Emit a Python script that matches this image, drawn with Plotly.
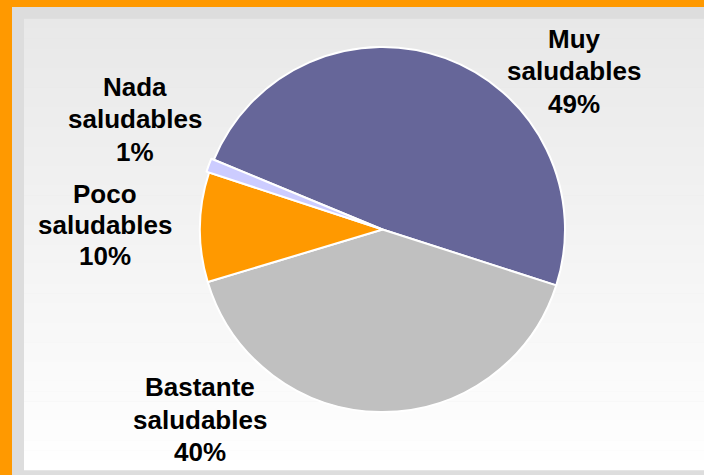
import plotly.graph_objects as go

# ---- data ----
categories = ["Muy saludables", "Bastante saludables", "Poco saludables", "Nada saludables"]
values = [48.7, 40.4, 9.7, 1.2]
colors = ["#666699", "#C0C0C0", "#FF9900", "#CCCCFF"]
pulls = [0, 0, 0, 0.015]

W, H = 704, 475
total = sum(values)
pct_labels = [f"{round(v / total * 100)}%" for v in values]

fig = go.Figure()

# pie geometry (pixels)
cx, cy, r = 382.5, 229.5, 182.5
half = r * (1 + max(pulls))
fig.add_trace(go.Pie(
    labels=categories,
    values=values,
    marker=dict(colors=colors, line=dict(color="white", width=2)),
    pull=pulls,
    sort=False,
    direction="clockwise",
    rotation=-67.5,
    textinfo="none",
    hoverinfo="skip",
    showlegend=False,
    domain=dict(x=[(cx - half) / W, (cx + half) / W],
                y=[(H - cy - half) / H, (H - cy + half) / H]),
))

shapes = []
# grey frame
shapes.append(dict(type="rect", xref="paper", yref="paper", layer="below",
                   x0=12 / W, x1=1.0, y0=0, y1=1 - 7 / H,
                   fillcolor="#DDDDDD", line=dict(width=0)))
# gradient panel
top, bot = 19, 470
nb = 46
for i in range(nb):
    y0 = top + (bot - top) * i / nb
    y1 = top + (bot - top) * (i + 1) / nb
    t = (i + 0.5) / nb
    c = round(232 + (255 - 232) * t)
    shapes.append(dict(type="rect", xref="paper", yref="paper", layer="below",
                       x0=24 / W, x1=1.0, y0=1 - y1 / H - 0.0005, y1=1 - y0 / H + 0.0005,
                       fillcolor=f"rgb({c},{c},{c})", line=dict(width=0)))

# label placement (px): center x, y of each line
label_pos = [
    (574, [39, 71, 104]),
    (200, [387, 420, 452]),
    (105, [194, 225, 256]),
    (135, [87, 119, 152]),
]
annotations = []
for cat, pct, (lx, lys) in zip(categories, pct_labels, label_pos):
    lines = cat.split(" ") + [pct]
    for txt, ly in zip(lines, lys):
        annotations.append(dict(
            text=f"<b>{txt}</b>", x=lx / W, y=1 - ly / H, xref="paper", yref="paper",
            xanchor="center", yanchor="middle", showarrow=False,
            font=dict(family="Liberation Sans, Arial, sans-serif", size=26, color="black"),
        ))

fig.update_layout(
    width=W, height=H,
    margin=dict(l=0, r=0, t=0, b=0),
    paper_bgcolor="#FF9900",
    plot_bgcolor="rgba(0,0,0,0)",
    shapes=shapes,
    annotations=annotations,
    showlegend=False,
)

fig.write_html("out.html", config={"displayModeBar": False},
               post_script="document.body.style.margin='0';document.body.style.overflow='hidden';")
